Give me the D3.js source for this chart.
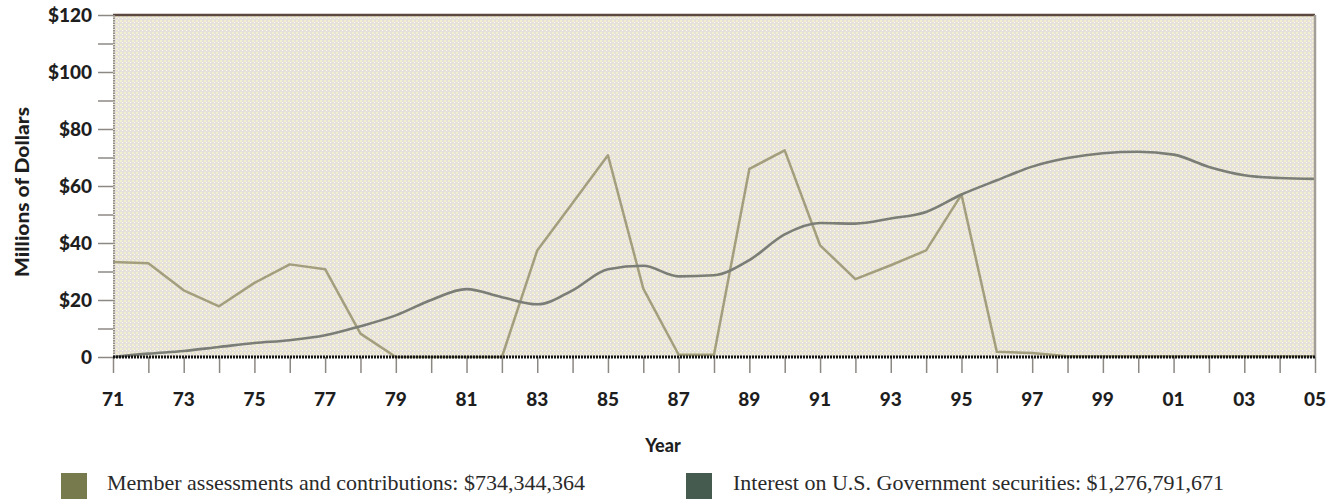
<!DOCTYPE html>
<html>
<head>
<meta charset="utf-8">
<script src="https://cdn.jsdelivr.net/npm/d3@7"></script>
<style>
  html, body { margin: 0; padding: 0; background: #fff; }
  svg { display: block; }
  .tick-label { font-family: Lato, "Open Sans", sans-serif; font-weight: 900; font-size: 19px; fill: #1e1e1e; }
  .axis-title { font-family: Lato, "Open Sans", sans-serif; font-weight: 900; font-size: 18px; fill: #1e1e1e; }
  .legend-text { font-family: "Liberation Serif", "DejaVu Serif", serif; font-size: 21px; fill: #2a2a2a; }
</style>
</head>
<body>
<svg id="chart" width="1340" height="500"></svg>
<script>
// --- Données (millions de dollars)
const years = [1971, 1972, 1973, 1974, 1975, 1976, 1977, 1978, 1979, 1980,
               1981, 1982, 1983, 1984, 1985, 1986, 1987, 1988, 1989, 1990,
               1991, 1992, 1993, 1994, 1995, 1996, 1997, 1998, 1999, 2000,
               2001, 2002, 2003, 2004, 2005];
const memberAssessments = [33.3, 32.9, 23.4, 17.8, 26, 32.5, 30.8, 8.2, 0, 0,
                           0, 0, 37.4, 54, 70.8, 24, 0.8, 0.8, 66, 72.5,
                           39.2, 27.3, 32.2, 37.4, 57, 1.8, 1.4, 0.3, 0.3, 0.3,
                           0.3, 0.3, 0.3, 0.3, 0.3];
const interestSecurities = [0, 1.2, 2.1, 3.5, 4.9, 5.9, 7.6, 10.8, 14.6, 20,
                            23.8, 21, 18.5, 23.4, 30.8, 32, 28.3, 28.7, 34, 43,
                            47, 46.8, 48.6, 50.9, 57, 62, 66.8, 69.8, 71.5, 72,
                            71, 66.7, 63.8, 62.8, 62.5];
const yTicks = [0, 20, 40, 60, 80, 100, 120];
const yMinorTicks = [10, 30, 50, 70, 90, 110];
const yTickLabels = ['0', '$20', '$40', '$60', '$80', '$100', '$120'];
const xLabelYears = [1971, 1973, 1975, 1977, 1979, 1981, 1983, 1985, 1987, 1989,
                     1991, 1993, 1995, 1997, 1999, 2001, 2003, 2005];
const legendLabels = ['Member assessments and contributions: $734,344,364',
                      'Interest on U.S. Government securities: $1,276,791,671'];

// --- Mise en page
const svg = d3.select('#chart');
const plot = { l: 113, r: 1315, t: 15, b: 357 };

const x = d3.scaleLinear().domain([1971, 2005]).range([plot.l, plot.r]);
const y = d3.scaleLinear().domain([0, 120]).range([plot.b, plot.t]);

// --- Fond tramé
const defs = svg.append('defs');
const pat = defs.append('pattern').attr('id', 'weave')
  .attr('width', 4).attr('height', 4).attr('patternUnits', 'userSpaceOnUse');
pat.append('rect').attr('width', 4).attr('height', 4).attr('fill', '#e5e0da');
pat.append('rect').attr('x', 0).attr('y', 0).attr('width', 2).attr('height', 2).attr('fill', '#f3f0cf');
pat.append('rect').attr('x', 2).attr('y', 2).attr('width', 1).attr('height', 1).attr('fill', '#fbfaf5');
pat.append('rect').attr('x', 1).attr('y', 1).attr('width', 1).attr('height', 1).attr('fill', '#efebd8');

svg.append('rect')
  .attr('x', plot.l).attr('y', plot.t)
  .attr('width', plot.r - plot.l).attr('height', plot.b - plot.t)
  .attr('fill', 'url(#weave)');

// --- Axe Y
const yAxis = svg.append('g').attr('transform', `translate(${plot.l},0)`);
yAxis.call(d3.axisLeft(y).tickValues(yTicks.concat(yMinorTicks)).tickSize(15).tickFormat(''));
yAxis.select('.domain').remove();
yAxis.selectAll('.tick line').attr('stroke', '#8c8884').attr('stroke-width', 1.5);

svg.append('g').selectAll('text').data(yTicks).join('text')
  .attr('class', 'tick-label')
  .attr('x', 92).attr('y', d => y(d))
  .attr('dy', '0.36em').attr('text-anchor', 'end')
  .text((d, i) => yTickLabels[i]);

// --- Axe X
const xAxis = svg.append('g').attr('transform', `translate(0,${plot.b})`);
xAxis.call(d3.axisBottom(x).tickValues(years).tickSize(16).tickFormat(''));
xAxis.select('.domain').remove();
xAxis.selectAll('.tick line').attr('stroke', '#8c8884').attr('stroke-width', 1.5);

svg.append('g').selectAll('text').data(xLabelYears).join('text')
  .attr('class', 'tick-label')
  .attr('x', d => x(d)).attr('y', 406)
  .attr('text-anchor', 'middle')
  .text(d => String(d % 100).padStart(2, '0'));

// --- Titres d'axes
svg.append('text').attr('class', 'axis-title')
  .attr('transform', 'translate(29,192) rotate(-90)')
  .attr('text-anchor', 'middle')
  .attr('textLength', 170).attr('lengthAdjust', 'spacingAndGlyphs')
  .text('Millions of Dollars');

svg.append('text').attr('class', 'axis-title')
  .attr('x', 663).attr('y', 452)
  .attr('text-anchor', 'middle')
  .text('Year');

// --- Courbes
const memberLine = d3.line().x((d, i) => x(years[i])).y(d => y(d));
const interestLine = d3.line().x((d, i) => x(years[i])).y(d => y(d)).curve(d3.curveMonotoneX);

svg.append('path').datum(memberAssessments)
  .attr('d', memberLine)
  .attr('fill', 'none').attr('stroke', '#a39f7e').attr('stroke-width', 2.5)
  .attr('stroke-linejoin', 'round');

svg.append('path').datum(interestSecurities)
  .attr('d', interestLine)
  .attr('fill', 'none').attr('stroke', '#7b7e77').attr('stroke-width', 2.6)
  .attr('stroke-linejoin', 'round');

// --- Bordures du cadre
svg.append('line').attr('x1', plot.l).attr('x2', plot.r).attr('y1', plot.t).attr('y2', plot.t)
  .attr('stroke', '#5c4840').attr('stroke-width', 2.5);
svg.append('line').attr('x1', plot.r).attr('x2', plot.r).attr('y1', plot.t).attr('y2', plot.b)
  .attr('stroke', '#a49e98').attr('stroke-width', 2.5);
svg.append('line').attr('x1', plot.l + 1).attr('x2', plot.l + 1).attr('y1', plot.t).attr('y2', plot.b)
  .attr('stroke', '#928c86').attr('stroke-width', 2).attr('stroke-dasharray', '1.5 1');
svg.append('line').attr('x1', plot.l).attr('x2', plot.r).attr('y1', y(0)).attr('y2', y(0))
  .attr('stroke', '#141414').attr('stroke-width', 3).attr('stroke-dasharray', '2 1');

// --- Légende
const legend = [
  { x: 61, tx: 107, w: 478, color: '#767a4c' },
  { x: 686, tx: 733, w: 491, color: '#455b50' }
];
const lg = svg.append('g').selectAll('g').data(legend).join('g');
lg.append('rect')
  .attr('x', d => d.x).attr('y', 473)
  .attr('width', 26).attr('height', 26)
  .attr('fill', d => d.color);
lg.append('text').attr('class', 'legend-text')
  .attr('x', d => d.tx).attr('y', 490)
  .attr('textLength', d => d.w).attr('lengthAdjust', 'spacingAndGlyphs')
  .text((d, i) => legendLabels[i]);
</script>
</body>
</html>
